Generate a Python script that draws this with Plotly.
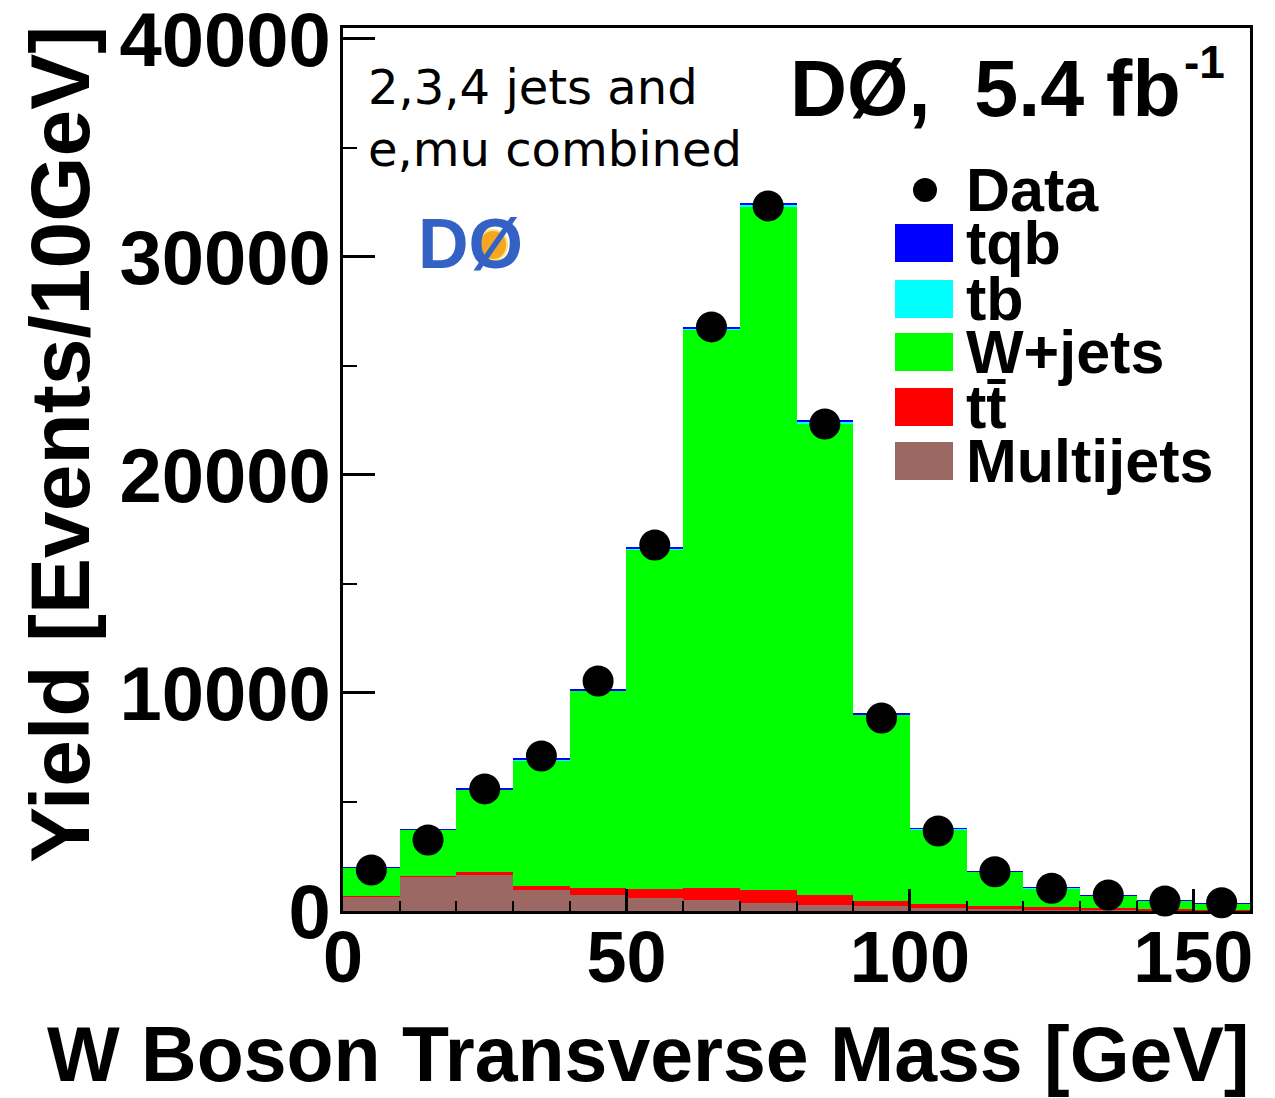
import plotly.graph_objects as go

# W boson transverse mass, 10 GeV bins from 0 to 160 GeV
bin_centers = [5, 15, 25, 35, 45, 55, 65, 75, 85, 95, 105, 115, 125, 135, 145, 155]

# Stacked background / signal predictions (events per bin)
multijets = [660, 1570, 1680, 960, 730, 580, 500, 380, 275, 240, 150, 100, 80, 60, 40, 30]
ttbar = [30, 45, 90, 200, 310, 430, 540, 580, 455, 220, 150, 130, 90, 60, 40, 30]
wjets = [1320, 2120, 3790, 5760, 9060, 15580, 25610, 31350, 21640, 8540, 3460, 1580, 880, 590, 410, 280]
tb = [3, 8, 14, 20, 28, 40, 55, 65, 55, 30, 15, 9, 6, 5, 3, 2]
tqb = [5, 15, 25, 35, 50, 70, 95, 110, 95, 50, 25, 15, 10, 8, 5, 4]

# Observed data
data = [1880, 3260, 5600, 7110, 10550, 16790, 26790, 32340, 22340, 8850, 3670, 1800, 1040, 730, 460, 380]

x_ticks = [0, 50, 100, 150]
y_ticks = [0, 10000, 20000, 30000, 40000]

# stacking order bottom -> top
stack = [
    ("Multijets", multijets, "#9b6863"),
    ("tt\u0304", ttbar, "#ff0000"),
    ("W+jets", wjets, "#00ff00"),
    ("tb", tb, "#00ffff"),
    ("tqb", tqb, "#0000ff"),
]

W, H = 1275, 1098
L, R, T, B = 343, 25, 28, 187
PW, PH = W - L - R, H - T - B


def px(x):
    return (x - L) / PW


def py(y):
    return (H - B - y) / PH


fig = go.Figure()
for name, vals, col in stack:
    fig.add_trace(go.Bar(
        x=bin_centers, y=vals, width=10, name=name,
        marker=dict(color=col, line=dict(width=0)),
        showlegend=False,
    ))

fig.add_trace(go.Scatter(
    x=bin_centers, y=data, mode="markers", name="Data",
    marker=dict(color="black", size=31, line=dict(width=0)),
    cliponaxis=False, showlegend=False,
))

bold = dict(family="Liberation Sans, Arial, sans-serif", color="black", weight="bold")

annotations = []
shapes = []

# legend drawn by hand: dot + colour boxes with bold labels
annotations.append(dict(x=px(964), y=py(190), xref="paper", yref="paper", text="Data",
                        showarrow=False, xanchor="left", yanchor="middle",
                        font=dict(size=61, **bold)))
shapes.append(dict(type="circle", xref="paper", yref="paper",
                   x0=px(913), x1=px(937), y0=py(202), y1=py(178),
                   fillcolor="black", line=dict(width=0)))
legend_rows = [("tqb", "#0000ff", 243), ("tb", "#00ffff", 299), ("W+jets", "#00ff00", 352),
               ("tt\u0304", "#ff0000", 407), ("Multijets", "#9b6863", 461)]
for label, col, yc in legend_rows:
    shapes.append(dict(type="rect", xref="paper", yref="paper",
                       x0=px(895), x1=px(953), y0=py(yc + 19), y1=py(yc - 19),
                       fillcolor=col, line=dict(width=0)))
    annotations.append(dict(x=px(964), y=py(yc), xref="paper", yref="paper", text=label,
                            showarrow=False, xanchor="left", yanchor="middle",
                            font=dict(size=61, **bold)))

# experiment label and luminosity
annotations.append(dict(x=px(788), y=py(88), xref="paper", yref="paper",
                        text="DØ,  5.4 fb", showarrow=False, xanchor="left", yanchor="middle",
                        font=dict(size=79, **bold)))
annotations.append(dict(x=px(1182), y=py(62), xref="paper", yref="paper",
                        text="-1", showarrow=False, xanchor="left", yanchor="middle",
                        font=dict(size=46, **bold)))

# selection text
annotations.append(dict(x=px(366), y=py(118), xref="paper", yref="paper",
                        text="2,3,4 jets and<br>e,mu combined", showarrow=False,
                        xanchor="left", yanchor="middle", align="left",
                        font=dict(family="DejaVu Sans", size=48, color="black")))

# small DØ logo
shapes.append(dict(type="circle", xref="paper", yref="paper",
                   x0=px(479), x1=px(507), y0=py(260), y1=py(230),
                   fillcolor="#f5a623", line=dict(color="#ffe070", width=2)))
annotations.append(dict(x=px(470), y=py(244), xref="paper", yref="paper",
                        text="DØ", showarrow=False, xanchor="center", yanchor="middle",
                        font=dict(family="Liberation Sans", size=70, color="#3462c4", weight="bold")))

# axis titles
annotations.append(dict(x=px(648), y=py(1054), xref="paper", yref="paper",
                        text="W Boson Transverse Mass [GeV]", showarrow=False,
                        xanchor="center", yanchor="middle", font=dict(size=77, **bold)))
annotations.append(dict(x=px(60), y=py(445), xref="paper", yref="paper",
                        text="Yield [Events/10GeV]", showarrow=False, textangle=-90,
                        xanchor="center", yanchor="middle", font=dict(size=84, **bold)))

fig.update_layout(
    width=W, height=H,
    margin=dict(l=L, r=R, t=T, b=B, pad=0),
    barmode="stack", bargap=0,
    plot_bgcolor="white", paper_bgcolor="white",
    annotations=annotations, shapes=shapes,
    showlegend=False,
)

fig.update_xaxes(
    range=[0, 160], tickvals=x_ticks, ticktext=[str(v) for v in x_ticks],
    ticks="inside", ticklen=22, tickwidth=3, tickcolor="black",
    minor=dict(ticks="inside", ticklen=10, tickwidth=2, dtick=10, tick0=0, tickcolor="black"),
    showline=True, linewidth=3, linecolor="black", mirror=True,
    showgrid=False, zeroline=False, automargin=False,
    tickfont=dict(size=72, **bold), ticklabelstandoff=-18,
    ticklabeloverflow="allow",
)
fig.update_yaxes(
    range=[0, 40500], tickvals=y_ticks, ticktext=[str(v) for v in y_ticks],
    ticks="inside", ticklen=32, tickwidth=3, tickcolor="black",
    minor=dict(ticks="inside", ticklen=14, tickwidth=2, dtick=5000, tick0=0, tickcolor="black"),
    showline=True, linewidth=3, linecolor="black", mirror=True,
    showgrid=False, zeroline=False, automargin=False,
    tickfont=dict(size=76, **bold), ticklabelstandoff=-6,
    ticklabeloverflow="allow",
)

fig.write_html("out.html")
